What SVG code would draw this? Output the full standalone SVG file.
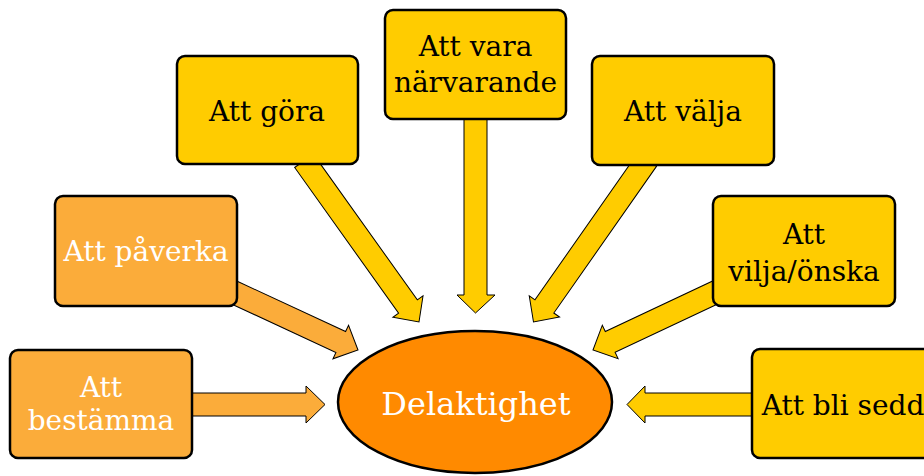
<svg xmlns="http://www.w3.org/2000/svg" width="924" height="476" viewBox="0 0 924 476">
<defs>
<style>
.box{stroke:#000;stroke-width:2.5}
.y{fill:#FFCC00}
.o{fill:#FBAC3A}
.arr{stroke:#000;stroke-width:1}
.t{font-family:"DejaVu Serif","Liberation Serif",serif;font-size:28px;text-anchor:middle}
.dk{fill:#000}
.wh{fill:#fff}
</style>
</defs>
<rect width="924" height="476" fill="#fff"/>
<g id="connectors">
<polygon class="arr o" points="192,393 306,393 306,386 325,404.5 306,423 306,416 192,416"/>
<polygon class="arr y" points="756,393 645,393 645,386 627,404.5 645,423 645,416 756,416"/>
<polygon class="arr y" points="464,115 487,115 487,295 495,295 475.5,313 457,295 464,295"/>
<polygon class="arr o" transform="translate(358,350) rotate(24.9)" points="-142,-11.5 -19,-11.5 -19,-18.5 0,0 -19,18.5 -19,11.5 -142,11.5"/>
<polygon class="arr y" transform="translate(419,322) rotate(54.5)" points="-198,-11.5 -19,-11.5 -19,-18.5 0,0 -19,18.5 -19,11.5 -198,11.5"/>
<polygon class="arr y" transform="translate(533.5,322) rotate(125)" points="-198,-11.5 -19,-11.5 -19,-18.5 0,0 -19,18.5 -19,11.5 -198,11.5"/>
<polygon class="arr y" transform="translate(593,350) rotate(154.8)" points="-140,-11.5 -19,-11.5 -19,-18.5 0,0 -19,18.5 -19,11.5 -140,11.5"/>
</g>
<g id="center">
<ellipse cx="475" cy="402" rx="137" ry="71" fill="#FF8A00" stroke="#000" stroke-width="2.5"/>
<text class="t wh" x="476" y="415" style="font-size:32px">Delaktighet</text>
</g>
<g id="bestamma">
<rect class="box o" x="10" y="350" width="182" height="108" rx="8"/>
<text class="t wh" x="101" y="397">Att</text>
<text class="t wh" x="101" y="430">bestämma</text>
</g>
<g id="paverka">
<rect class="box o" x="55" y="196" width="182" height="110" rx="8"/>
<text class="t wh" x="146" y="261">Att påverka</text>
</g>
<g id="gora">
<rect class="box y" x="177" y="56" width="181" height="108" rx="8"/>
<text class="t dk" x="267" y="121">Att göra</text>
</g>
<g id="narvarande">
<rect class="box y" x="385" y="10" width="181" height="109" rx="8"/>
<text class="t dk" x="475.5" y="56">Att vara</text>
<text class="t dk" x="475.5" y="92">närvarande</text>
</g>
<g id="valja">
<rect class="box y" x="592" y="56" width="182" height="109" rx="8"/>
<text class="t dk" x="683" y="121">Att välja</text>
</g>
<g id="vilja">
<rect class="box y" x="713" y="196" width="182" height="110" rx="8"/>
<text class="t dk" x="804" y="244">Att</text>
<text class="t dk" x="804" y="281">vilja/önska</text>
</g>
<g id="sedd">
<rect class="box y" x="752" y="349" width="182" height="109" rx="8"/>
<text class="t dk" x="843" y="415">Att bli sedd</text>
</g>
</svg>
